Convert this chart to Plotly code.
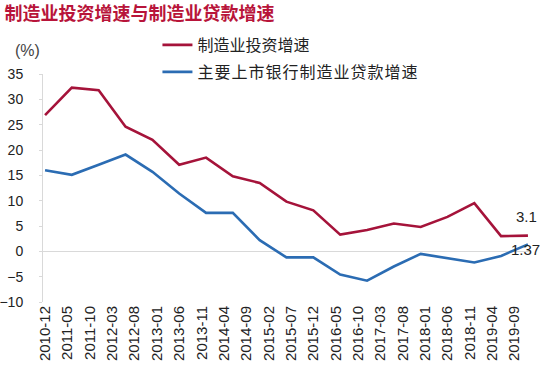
import plotly.graph_objects as go

dates = ["2010-12", "2011-06", "2011-12", "2012-06", "2012-12", "2013-06", "2013-12",
         "2014-06", "2014-12", "2015-06", "2015-12", "2016-06", "2016-12", "2017-06",
         "2017-12", "2018-06", "2018-12", "2019-06", "2019-12"]
invest = [26.9, 32.3, 31.8, 24.6, 22.0, 17.1, 18.5, 14.8, 13.5, 9.8, 8.1, 3.3, 4.2, 5.5,
          4.8, 6.8, 9.5, 3.0, 3.1]
loans = [16.0, 15.1, 17.1, 19.1, 15.7, 11.4, 7.6, 7.6, 2.2, -1.2, -1.2, -4.6, -5.8, -3.0,
         -0.5, -1.3, -2.2, -0.9, 1.37]
name_invest = "制造业投资增速"
name_loans = "主要上市银行制造业贷款增速"
title_text = "制造业投资增速与制造业贷款增速"

RED = "#A5133A"
BLUE = "#2B6CB3"
CJK = "Noto Sans CJK SC"
LAT = "Liberation Sans, Arial, sans-serif"

fig = go.Figure()
fig.add_trace(go.Scatter(x=dates, y=invest, mode="lines", name=name_invest,
                         line=dict(color=RED, width=2.6), legend="legend", showlegend=True))
fig.add_trace(go.Scatter(x=dates, y=loans, mode="lines",
                         name='<span style="letter-spacing:1px">' + name_loans + '</span>',
                         line=dict(color=BLUE, width=2.6), legend="legend2", showlegend=True))

fig.add_annotation(x=dates[-1], y=invest[-1], text="3.1", showarrow=False,
                   yshift=19, xshift=-1, font=dict(family=LAT, size=15, color="#222"))
fig.add_annotation(x=dates[-1], y=loans[-1], text="1.37", showarrow=False,
                   yshift=-5, xshift=-2, font=dict(family=LAT, size=15, color="#222"))
fig.add_annotation(xref="paper", yref="paper", x=-0.002, y=1.105, xanchor="right",
                   yanchor="middle", text="(%)", showarrow=False,
                   font=dict(family=LAT, size=16, color="#444"))

legend_common = dict(xanchor="left", yanchor="middle", bgcolor="rgba(0,0,0,0)",
                     font=dict(family=CJK, size=16, color="#222"), itemwidth=30)

fig.update_layout(
    width=550, height=367,
    margin=dict(l=43, r=20, t=74, b=65, autoexpand=False),
    paper_bgcolor="white", plot_bgcolor="white",
    showlegend=True,
    title=dict(text="<b>" + title_text + "</b>", x=0.008, xanchor="left", y=0.962,
               yanchor="middle", automargin=False,
               font=dict(family=CJK, size=18, color="#B8143A")),
    legend=dict(x=0.235, y=(302 - 45) / 228, **legend_common),
    legend2=dict(x=0.235, y=(302 - 72) / 228, **legend_common),
    xaxis=dict(type="date", range=["2010-11-17", "2019-12-15"], tick0="2010-12-01",
               dtick="M5", tickformat="%Y-%m", tickangle=-90, showgrid=False,
               showline=False, zeroline=False, ticks="", automargin=False,
               tickfont=dict(family=LAT, size=15, color="#222")),
    yaxis=dict(range=[-10, 35], dtick=5, tick0=0, showgrid=False, showline=True,
               linecolor="#D9D9D9", linewidth=1, ticks="outside", ticklen=3,
               tickcolor="#D9D9D9", zeroline=True, zerolinecolor="#D9D9D9",
               zerolinewidth=1, ticklabelstandoff=13, automargin=False,
               tickfont=dict(family=LAT, size=14, color="#222")),
)

fig.write_html("out.html", config={"displayModeBar": False},
               post_script="document.body.style.margin='0';document.body.style.padding='0';")
